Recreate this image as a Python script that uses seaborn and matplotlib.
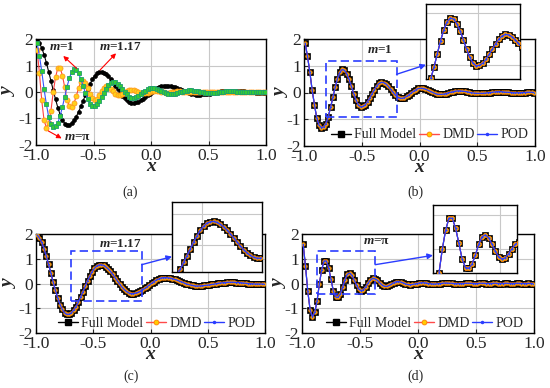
import numpy as np
import matplotlib
matplotlib.use("Agg")
import matplotlib.pyplot as plt
import seaborn as sns
from matplotlib.lines import Line2D
from matplotlib.patches import Rectangle

sns.set_style("ticks")
plt.rcParams["font.family"] = ["Liberation Serif", "DejaVu Serif"]
plt.rcParams["axes.unicode_minus"] = False
plt.rcParams["mathtext.fontset"] = "custom"
plt.rcParams["mathtext.it"] = "Liberation Serif:italic:bold"
plt.rcParams["mathtext.rm"] = "Liberation Serif:bold"

# sample points (cell centres)
x_grid = np.round(np.linspace(-0.99, 0.99, 100), 2)

# m = 1
y_m1 = [1.84, 1.36, 0.78, 0.11, -0.45, -0.94, -1.22, -1.31, -1.29, -1.16,
        -0.90, -0.56, -0.18, 0.20, 0.52, 0.75, 0.86, 0.83, 0.70, 0.49,
        0.23, -0.04, -0.28, -0.46, -0.54, -0.52, -0.46, -0.34, -0.20, -0.04,
        0.11, 0.25, 0.34, 0.38, 0.37, 0.32, 0.23, 0.12, 0.01, -0.09,
        -0.17, -0.21, -0.22, -0.19, -0.14, -0.08, -0.01, 0.05, 0.11, 0.15,
        0.16, 0.15, 0.13, 0.09, 0.05, 0.01, -0.03, -0.06, -0.07, -0.07,
        -0.06, -0.04, -0.01, 0.01, 0.03, 0.05, 0.06, 0.06, 0.05, 0.04,
        0.03, 0.01, -0.01, -0.02, -0.03, -0.03, -0.03, -0.03, -0.02, -0.01,
        0.00, 0.01, 0.02, 0.03, 0.03, 0.03, 0.02, 0.01, 0.01, 0.00,
        -0.01, -0.01, -0.01, -0.01, 0.00, 0.00, 0.01, 0.01, 0.01, 0.00]

# m = 1.17
y_m117 = [1.96, 1.84, 1.66, 1.41, 1.11, 0.77, 0.42, 0.06, -0.28, -0.59,
          -0.85, -1.05, -1.19, -1.25, -1.24, -1.18, -1.07, -0.93, -0.75, -0.54,
          -0.33, -0.11, 0.11, 0.30, 0.48, 0.61, 0.71, 0.75, 0.76, 0.73,
          0.67, 0.59, 0.49, 0.37, 0.24, 0.11, -0.02, -0.14, -0.24, -0.32,
          -0.38, -0.41, -0.41, -0.39, -0.36, -0.32, -0.26, -0.20, -0.13, -0.06,
          0.01, 0.08, 0.14, 0.18, 0.22, 0.24, 0.24, 0.23, 0.22, 0.20,
          0.17, 0.14, 0.10, 0.07, 0.03, -0.01, -0.04, -0.06, -0.08, -0.10,
          -0.10, -0.10, -0.09, -0.08, -0.07, -0.06, -0.04, -0.03, -0.01, 0.01,
          0.02, 0.03, 0.04, 0.05, 0.05, 0.05, 0.05, 0.04, 0.04, 0.03,
          0.02, 0.01, 0.00, -0.01, -0.01, -0.02, -0.02, -0.02, -0.02, -0.02]

# m = pi
y_mpi = [1.58, 0.71, -0.32, -1.07, -1.34, -1.17, -0.70, 0.00, 0.56, 0.91,
         0.91, 0.62, 0.17, -0.30, -0.54, -0.56, -0.43, -0.16, 0.15, 0.37,
         0.42, 0.33, 0.14, -0.06, -0.23, -0.29, -0.25, -0.13, 0.02, 0.14,
         0.21, 0.19, 0.13, 0.03, -0.06, -0.11, -0.12, -0.08, -0.03, 0.03,
         0.07, 0.08, 0.06, 0.03, -0.01, -0.04, -0.05, -0.04, -0.02, 0.00,
         0.02, 0.03, 0.03, 0.02, 0.00, -0.01, -0.02, -0.02, -0.01, 0.00,
         0.01, 0.02, 0.02, 0.01, 0.01, 0.00, -0.01, -0.01, 0.00, 0.00,
         0.01, 0.01, 0.01, 0.00, 0.00, 0.00, 0.01, 0.01, 0.01, 0.00,
         0.00, 0.00, 0.01, 0.01, 0.00, 0.00, 0.00, 0.01, 0.01, 0.00,
         0.00, 0.00, 0.01, 0.01, 0.00, 0.00, 0.00, 0.01, 0.00, 0.00]

x_ticks = [-1.0, -0.5, 0.0, 0.5, 1.0]
x_ticklabels = ["-1.0", "-0.5", "0.0", "0.5", "1.0"]
y_ticks = [-2, -1, 0, 1, 2]
y_ticklabels = ["-2", "-1", "0", "1", "2"]
legend_labels = ["Full Model", "DMD", "POD"]

BLUE = "#2a3cff"
RED = "#ff4a4a"
YEL = "#ffcc00"
ORG = "#ff8000"


def curve(ax, y, color, marker, ms, mfc, mec, lw=0.8, mew=0.5, z=2):
    sns.lineplot(x=x_grid, y=y, ax=ax, color=color, marker=marker, markersize=ms,
                 markerfacecolor=mfc, markeredgecolor=mec, markeredgewidth=mew,
                 linewidth=lw, sort=False, estimator=None, zorder=z)


def style_main(ax, ylab_x):
    ax.set_xlim(-1, 1)
    ax.set_ylim(-2, 2)
    ax.set_xticks(x_ticks)
    ax.set_xticklabels(x_ticklabels, fontsize=12.5)
    ax.set_yticks(y_ticks)
    ax.set_yticklabels(y_ticklabels, fontsize=12.5)
    ax.grid(True, color="#c8c8c8", lw=0.8)
    ax.set_axisbelow(True)
    ax.tick_params(direction="in", length=3, width=0.8, pad=2)
    for s in ax.spines.values():
        s.set_color("black")
        s.set_linewidth(1.0)
    ax.set_xlabel("x", fontsize=14, fontweight="bold", style="italic", labelpad=-4)
    ax.set_ylabel("y", fontsize=14, fontweight="bold", style="italic", va="center")
    ax.yaxis.set_label_coords(ylab_x, 0.5)


def three_models(ax, y, ms_sq, ms_c, ms_d):
    curve(ax, y, "black", "s", ms_sq, "black", "black", lw=0.8, z=2)
    curve(ax, y, RED, "o", ms_c, YEL, ORG, lw=0.8, mew=0.6, z=3)
    curve(ax, y, BLUE, ".", ms_d, BLUE, BLUE, lw=0.9, mew=0.3, z=4)


def inset(fig, rect, y, xlim, ylim, yt, ms_sq, ms_c, ms_d):
    ins = fig.add_axes(rect)
    ins.set_facecolor("white")
    three_models(ins, y, ms_sq, ms_c, ms_d)
    ins.set_xlim(*xlim)
    ins.set_ylim(*ylim)
    ins.set_xticks([-0.5])
    ins.set_yticks(yt)
    ins.set_xticklabels([])
    ins.set_yticklabels([])
    ins.tick_params(length=0)
    ins.grid(True, color="#c8c8c8", lw=0.8)
    ins.set_axisbelow(True)
    ins.set_xlabel("")
    ins.set_ylabel("")
    for s in ins.spines.values():
        s.set_color("black")
        s.set_linewidth(1.0)
    return ins


fig = plt.figure(figsize=(5.5, 3.88), dpi=100)
W, H = 550, 388

ax_a = fig.add_axes([36 / W, 1 - 145 / H, 230 / W, 106 / H])
ax_b = fig.add_axes([304 / W, 1 - 146 / H, 231 / W, 107 / H])
ax_c = fig.add_axes([36 / W, 1 - 333 / H, 229 / W, 99 / H])
ax_d = fig.add_axes([302 / W, 1 - 333 / H, 232 / W, 99 / H])

# (a) three parameter values
curve(ax_a, y_m117, "black", "o", 2.8, "black", "black", lw=0.8, z=2)
curve(ax_a, y_mpi, "#ff4040", "o", 3.6, "#ffd11a", "#ff9a1a", lw=0.8, mew=0.6, z=3)
curve(ax_a, y_m1, "#3355ff", "s", 3.5, "#33cc33", "#1f9e6e", lw=0.8, mew=0.6, z=4)

arw = dict(arrowstyle="-|>", color="red", lw=0.8, mutation_scale=7, shrinkA=0, shrinkB=0)
ax_a.annotate("", xy=(-0.763, 1.36), xytext=(-0.646, 0.89), arrowprops=arw, zorder=6)
ax_a.annotate("", xy=(-0.304, 1.46), xytext=(-0.443, 0.83), arrowprops=arw, zorder=6)
ax_a.annotate("", xy=(-0.777, -1.75), xytext=(-0.893, -1.47), arrowprops=arw, zorder=6)
tk = dict(fontsize=9.5, fontweight="bold", ha="center", va="center", zorder=7)
ax_a.text(-0.777, 1.71, "$m$=1", **tk)
ax_a.text(-0.264, 1.71, "$m$=1.17", **tk)
ax_a.text(-0.641, -1.69, "$m$=\u03c0", **tk)

# (b)-(d) model comparison
panels = [
    (ax_b, y_m1, "$m$=1", (-0.342, 1.59), (-0.806, -0.90, 0.607, 2.08), (-0.199, 0.68),
     [426 / W, 1 - 79 / H, 94 / W, 75 / H], (-0.82, -0.24), (-0.92, 1.27), [-0.5, 1.0], 0.19,
     (4.8, 3.0, 2.4), (0.97, 0.103)),
    (ax_c, y_m117, "$m$=1.17", (-0.26, 1.6), (-0.697, -0.72, 0.62, 2.02), (-0.077, 0.76),
     [172 / W, 1 - 272 / H, 90 / W, 70 / H], (-0.68, -0.14), (-0.85, 1.38), [0.0, 1.0], 0.22,
     (3.8, 2.6, 2.2), (0.957, 0.098)),
    (ax_d, y_mpi, "$m$=\u03c0", (-0.356, 1.73), (-0.871, -0.42, 0.502, 1.75), (-0.369, 0.76),
     [433 / W, 1 - 273 / H, 84 / W, 68 / H], (-0.906, -0.40), (-0.70, 1.30), [0.0, 1.0], 0.26,
     (4.9, 3.0, 2.4), (0.953, 0.098)),
]

handles = [
    Line2D([], [], color="black", marker="s", ms=4, lw=1),
    Line2D([], [], color=RED, marker="o", ms=3.5, mfc=YEL, mec=ORG, mew=0.6, lw=1),
    Line2D([], [], color=BLUE, marker=".", ms=3, lw=1),
]

for (ax, y, lab, lab_xy, box, a_from, rect, xl, yl, yt, a_to, ims, leg_xy) in panels:
    three_models(ax, y, 3.7, 2.5, 1.6)
    ax.add_patch(Rectangle(box[:2], box[2], box[3], fill=False, ec=BLUE, lw=1.2,
                           ls=(0, (5, 2.5)), zorder=6))
    ax.text(lab_xy[0], lab_xy[1], lab, **tk)
    ax.legend(handles, legend_labels, loc="center right", bbox_to_anchor=leg_xy,
              frameon=False, ncol=3, fontsize=10, handlelength=1.4, handletextpad=0.25,
              columnspacing=0.2, borderpad=0, borderaxespad=0)
    ins = inset(fig, rect, y, xl, yl, yt, *ims)
    ax.annotate("", xy=(0, a_to), xycoords=ins.transAxes, xytext=a_from, textcoords="data",
                arrowprops=dict(arrowstyle="-|>", color=BLUE, lw=1.0, mutation_scale=8,
                                shrinkA=0, shrinkB=0), annotation_clip=False, zorder=7)

for ax, lx in zip([ax_a, ax_b, ax_c, ax_d], [-0.118, -0.097, -0.118, -0.097]):
    style_main(ax, lx)

for t, xy in zip(["(a)", "(b)", "(c)", "(d)"],
                 [(130, 192), (415, 192), (131, 376), (415, 376)]):
    fig.text(xy[0] / W, 1 - xy[1] / H, t, fontsize=10, ha="center", va="center")

fig.savefig("out.png", dpi=100)
